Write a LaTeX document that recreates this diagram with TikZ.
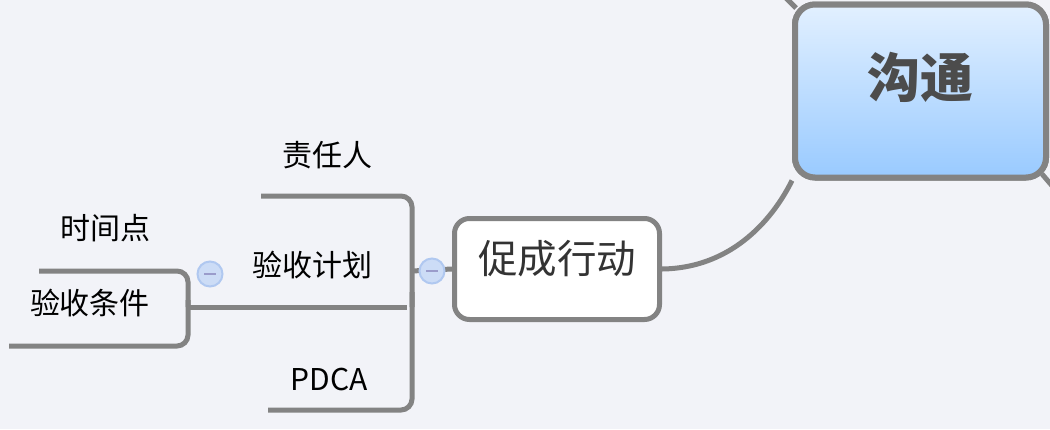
\documentclass[tikz,border=0pt]{standalone}
\usepackage{fontspec}
\usetikzlibrary{calc}
\setmainfont{Noto Sans CJK SC}
\definecolor{bgcol}{HTML}{F2F3F8}
\definecolor{linegray}{HTML}{838383}
\definecolor{topblue}{HTML}{E2F0FF}
\definecolor{botblue}{HTML}{99CAFF}
\definecolor{btnfill}{HTML}{CCDCF6}
\definecolor{btnline}{HTML}{B0C8F0}
\definecolor{btnminus}{HTML}{9A9CCB}
\begin{document}
\begin{tikzpicture}[x=1pt,y=-1pt,
  conn/.style={draw=linegray, line width=5pt},
  bracket/.style={conn, rounded corners=11pt},
  mainbox/.style={draw=linegray, line width=6pt, rounded corners=20pt,
    top color=topblue, bottom color=botblue, minimum width=251pt, minimum height=173pt,
    text=black!70, font=\fontsize{53pt}{60pt}\selectfont\bfseries, inner sep=0pt},
  subbox/.style={draw=linegray, line width=5pt, rounded corners=15pt, fill=white,
    minimum width=205pt, minimum height=101pt, text=black!80,
    font=\fontsize{39.5pt}{44pt}\selectfont, inner sep=0pt},
  leaf/.style={text=black, font=\fontsize{30pt}{34pt}\selectfont, inner sep=0pt},
  btn/.style={circle, draw=btnline, line width=2pt, fill=btnfill, minimum size=25pt, inner sep=0pt}
]
\fill[bgcol] (0,0) rectangle (1050,429);
\useasboundingbox (0,0) rectangle (1050,429);

% connectors leaving the picture
\coordinate (offA) at (784,-4);
\coordinate (offB) at (1054,188);
\draw[conn] (offA) -- (796,8);
\draw[conn] (1042,174) -- (offB);

% main topic
\node[mainbox] (gt) at (920.5,91) {\raisebox{32pt}{沟通}};
% sub topic
\node[subbox] (cx) at (557,269) {\raisebox{25pt}{促成行动}};

\draw[conn] (cx.east) .. controls (735,268) and (775,215) .. (gt.south west);
\node[mainbox] at (gt) {\raisebox{32pt}{沟通}};

% leaves
\node[leaf] (zr) at (327,155) {责任人};
\node[leaf] (ys) at (312,265) {验收计划};
\node[leaf] (pd) at (329,379) {PDCA};
\node[leaf] (sj) at (105,228) {时间点};
\node[leaf] (tj) at (90,303) {验收条件};

% underline coordinates
\coordinate (zrL) at (261,196);
\coordinate (ysL) at (188,307);
\coordinate (pdL) at (268,410);
\coordinate (sjL) at (39,271);
\coordinate (tjL) at (9,346);
\coordinate (brR) at (412,307);
\coordinate (brM) at (412,271);

% right bracket (children of 促成行动)
\draw[bracket] (zrL) -| (brR);
\draw[bracket] (pdL) -| (412,292);
\draw[conn] (ysL) -- (407,307);
\draw[conn] (brM) -- (cx.west);
\node[btn] (b1) at (432,271) {};
\draw[btnminus, line width=2pt] ($(b1)+(-6,0)$) -- ($(b1)+(6,0)$);

% left bracket (children of 验收计划)
\draw[bracket] (sjL) -| (ysL);
\draw[bracket] (tjL) -| (188,300);
\node[btn] (b2) at (210,274) {};
\draw[btnminus, line width=2pt] ($(b2)+(-6,0)$) -- ($(b2)+(6,0)$);
\end{tikzpicture}
\end{document}
